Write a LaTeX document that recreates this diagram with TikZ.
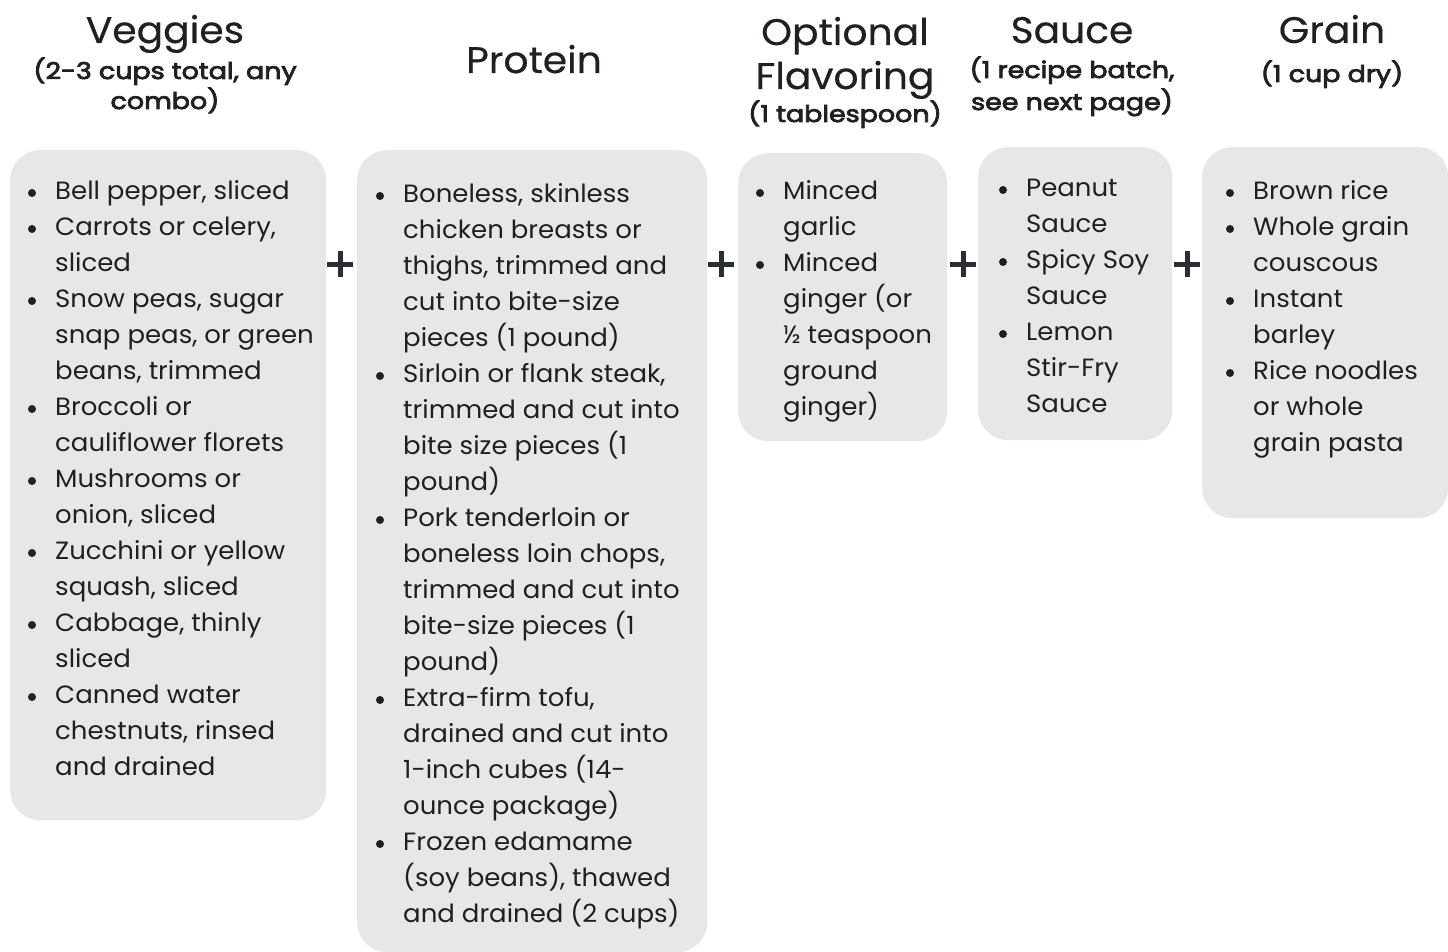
\documentclass[tikz,border=0pt]{standalone}
\usepackage{fontspec}
\setmainfont{Poppins}
\newfontfamily\bodyf{Poppins}[FakeStretch=1.04]
\newfontfamily\headf{Poppins}[FakeStretch=1.06, FakeBold=0.4]
\newfontfamily\subf{Poppins}[FakeStretch=1.17, FakeBold=3.5]
\definecolor{boxgray}{HTML}{E6E7E8}
\definecolor{ink}{HTML}{231F20}
\definecolor{plusink}{HTML}{2B2E33}
\newcommand\fl{\rule{0pt}{27pt}}
\begin{document}
\begin{tikzpicture}[x=1pt,y=-1pt,
  box/.style={fill=boxgray, rounded corners=30pt, inner sep=0pt, anchor=north west},
  item/.style={anchor=north west, inner sep=0pt, align=left, text=ink, font=\bodyf\fontsize{25}{36}\selectfont},
  bul/.style={circle, fill=ink, inner sep=0pt, minimum size=8pt},
  head/.style={anchor=base, inner sep=0pt, text=ink, font=\headf\fontsize{37}{44}\selectfont},
  sub/.style={anchor=base, inner sep=0pt, text=ink, font=\subf\fontsize{23}{32}\selectfont},
  plusmark/.style={minimum size=26pt, inner sep=0pt,
    path picture={\draw[line width=5pt, plusink]
      (path picture bounding box.north) -- (path picture bounding box.south)
      (path picture bounding box.west) -- (path picture bounding box.east);}}]
\useasboundingbox[fill=white] (0,0) rectangle (1448,952);
% boxes
\node[box, minimum width=316pt, minimum height=670pt] (vbox) at (10,150) {};
\node[box, minimum width=350pt, minimum height=802pt] (pbox) at (357,150) {};
\node[box, minimum width=209pt, minimum height=288pt] (fbox) at (738,153) {};
\node[box, minimum width=194pt, minimum height=293pt] (sbox) at (978,147) {};
\node[box, minimum width=246pt, minimum height=371pt] (gbox) at (1202,147) {};
% headers
\node[head] (hv) at (165,43) {Veggies};
\node[sub] (hv1) at (165,79) {(2-3 cups total, any};
\node[sub] (hv2) at (165,109) {combo)};
\node[head] (hp) at (534,73) {Protein};
\node[head] (hf1) at (845,45) {Optional};
\node[head] (hf2) at (845,89) {Flavoring};
\node[sub] (hf3) at (845,122) {(1 tablespoon)};
\node[head] (hs) at (1072,43) {Sauce};
\node[sub] (hs1) at (1072,78) {(1 recipe batch,};
\node[sub] (hs2) at (1072,110) {see next page)};
\node[head] (hg) at (1332,43) {Grain};
\node[sub] (hg1) at (1332,82) {(1 cup dry)};
% veggies items
\foreach \n/\k/\t in {1/0/{Bell pepper, sliced},
  2/1/{Carrots or celery,\\ sliced},
  3/3/{Snow peas, sugar\\ snap peas, or green\\ beans, trimmed},
  4/6/{Broccoli or\\ cauliflower florets},
  5/8/{Mushrooms or\\ onion, sliced},
  6/10/{Zucchini or yellow\\ squash, sliced},
  7/12/{Cabbage, thinly\\ sliced},
  8/14/{Canned water\\ chestnuts, rinsed\\ and drained}}{
  \node[item] (v\n) at (55,{199+36*\k-27}) {\fl\t};
  \node[bul] (vb\n) at (32,{199+36*\k-6}) {};
}
% protein items
\foreach \n/\k/\t in {1/0/{Boneless, skinless\\ chicken breasts or\\ thighs, trimmed and\\ cut into bite-size\\ pieces (1 pound)},
  2/5/{Sirloin or flank steak,\\ trimmed and cut into\\ bite size pieces (1\\ pound)},
  3/9/{Pork tenderloin or\\ boneless loin chops,\\ trimmed and cut into\\ bite-size pieces (1\\ pound)},
  4/14/{Extra-firm tofu,\\ drained and cut into\\ 1-inch cubes (14-\\ ounce package)},
  5/18/{Frozen edamame\\ (soy beans), thawed\\ and drained (2 cups)}}{
  \node[item] (p\n) at (403,{202+36*\k-27}) {\fl\t};
  \node[bul] (pb\n) at (380,{202+36*\k-6}) {};
}
% flavoring items
\foreach \n/\k/\t in {1/0/{Minced\\ garlic},
  2/2/{Minced\\ ginger (or\\ ½ teaspoon\\ ground\\ ginger)}}{
  \node[item] (f\n) at (783,{199+36*\k-27}) {\fl\t};
  \node[bul] (fb\n) at (760,{199+36*\k-6}) {};
}
% sauce items
\foreach \n/\k/\t in {1/0/{Peanut\\ Sauce},
  2/2/{Spicy Soy\\ Sauce},
  3/4/{Lemon\\ Stir-Fry\\ Sauce}}{
  \node[item] (s\n) at (1026,{196+36*\k-27}) {\fl\t};
  \node[bul] (sb\n) at (1003,{196+36*\k-6}) {};
}
% grain items
\foreach \n/\k/\t in {1/0/{Brown rice},
  2/1/{Whole grain\\ couscous},
  3/3/{Instant\\ barley},
  4/5/{Rice noodles\\ or whole\\ grain pasta}}{
  \node[item] (g\n) at (1253,{199+36*\k-27}) {\fl\t};
  \node[bul] (gb\n) at (1230,{199+36*\k-6}) {};
}
% plus signs
\node[plusmark] (pl1) at (340,264) {};
\node[plusmark] (pl2) at (721,264) {};
\node[plusmark] (pl3) at (963,264) {};
\node[plusmark] (pl4) at (1187,264) {};
\end{tikzpicture}
\end{document}
